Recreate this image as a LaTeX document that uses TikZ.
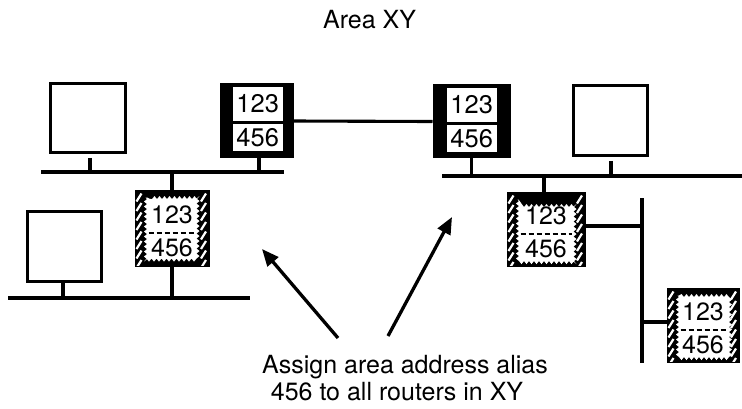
\documentclass[tikz,border=0pt]{standalone}
\usepackage{fontspec}
\setmainfont{TeX Gyre Heros}
\usetikzlibrary{calc,decorations.pathmorphing,arrows.meta}
\begin{document}
\begin{tikzpicture}[x=1pt,y=-1pt,
  lbl/.style={font=\fontsize{25}{30}\selectfont, inner sep=0pt},
  host/.style={draw, line width=2.8pt, fill=white, inner sep=0pt},
  bus/.style={line width=3.3pt},
  wire/.style={line width=3.1pt},
  rblack/.style={fill=black, draw=black, line width=1pt, inner sep=0pt},
  rbox/.style={fill=white, inner sep=0pt, minimum width=50pt, font=\fontsize{25.5}{30}\selectfont},
  rhatch/.style={fill=black, draw=black, line width=1pt, inner sep=0pt},
  hatchline/.style={white, line width=2.2pt},
  wavy/.style={white, decorate, decoration={snake, amplitude=1.5pt, segment length=5pt}},
  dashsep/.style={line width=2.2pt, dash pattern=on 5pt off 3pt},
  arr/.style={line width=3.3pt, -{Triangle[length=17pt,width=14pt]}}
]
\useasboundingbox (0,0) rectangle (742,408);

% title
\node[lbl, anchor=base] (title) at (369.5,28) {Area XY};

% bus coordinates
\coordinate (tlA) at (41,172);   \coordinate (tlB) at (284,172);
\coordinate (trA) at (442,176);  \coordinate (trB) at (742,176);
\coordinate (blA) at (8,298);    \coordinate (blB) at (250,298);
\coordinate (vA) at (642,198);   \coordinate (vB) at (642,363);

\draw[bus] (tlA) -- (tlB);
\draw[bus] (trA) -- (trB);
\draw[bus] (blA) -- (blB);
\draw[bus] (vA) -- (vB);

% hosts
\node[host, minimum width=75pt, minimum height=69pt] (host1) at (88,118) {};
\node[host, minimum width=74pt, minimum height=70pt] (host2) at (610.5,120.5) {};
\node[host, minimum width=74pt, minimum height=70pt] (host3) at (64.5,246.5) {};

\draw[wire] ($(host1.south)+(2,4)$) coordinate (h1s) -- (h1s |- tlA);
\draw[wire] ($(host2.south)+(0.5,4)$) coordinate (h2s) -- (h2s |- trA);
\draw[wire] ($(host3.south)+(-1.5,0)$) coordinate (h3s) -- (h3s |- blA);

% black routers
\node[rblack, minimum width=73pt, minimum height=74pt] (r1) at (256.5,120) {};
\node[rbox, minimum height=34pt, anchor=north west] (r1a) at ($(r1.north west)+(13,4)$) {123};
\node[rbox, minimum height=27pt, anchor=north west] (r1b) at ($(r1.north west)+(13,41)$) {456};

\node[rblack, minimum width=77pt, minimum height=73pt] (r2) at (471.5,120.5) {};
\node[rbox, minimum height=34pt, anchor=north west] (r2a) at ($(r2.north west)+(14,4)$) {123};
\node[rbox, minimum height=27pt, anchor=north west] (r2b) at ($(r2.north west)+(14,41)$) {456};

\draw[wire] ($(r1.east)+(0,1)$) -- ($(r2.west)+(0,1)$);
\draw[wire] ($(r1.south)+(2.5,0)$) coordinate (r1s) -- (r1s |- tlA);
\draw[wire] (r2.south) -- (r2.south |- trA);

% hatched routers
\foreach \n/\cx/\cy/\w/\h in {hr1/172/228/74/76, hr2/546/229/78/74, hr3/703/325/72/74} {
  \node[rhatch, minimum width=\w pt, minimum height=\h pt] (\n) at (\cx,\cy) {};
  \begin{scope}
    \clip ($(\n.north west)+(1,1)$) rectangle ($(\n.south east)+(-1,-1)$);
    \foreach \k in {0,...,7} {
      \draw[hatchline] ($(\n.north west)+(2,12+9.5*\k)$) -- ++(5,-8);
      \draw[hatchline] ($(\n.north east)+(-8.5,12+9.5*\k)$) -- ++(5,-8);
    }
  \end{scope}
  \fill[wavy] ($(\n.north west)+(11,8)$) rectangle ($(\n.south east)+(-11,-7)$);
  \draw[dashsep] ($(\n.west)+(14,5)$) -- ($(\n.east)+(-14,5)$);
  \node[lbl] (\n-t) at ($(\n.center)+(0,-13)$) {123};
  \node[lbl] (\n-b) at ($(\n.center)+(0,20)$) {456};
}

\draw[wire] (hr1.north) -- (hr1.north |- tlA);
\draw[wire] (hr1.south) -- (hr1.south |- blA);
\draw[wire] ($(hr2.north)+(-2,0)$) coordinate (hr2n) -- (hr2n |- trA);
\draw[wire] ($(hr2.east)+(0,-3)$) coordinate (hr2e) -- (hr2e -| vA);
\draw[wire] ($(hr3.west)+(0,-3)$) coordinate (hr3w) -- (hr3w -| vA);

% arrows and label
\coordinate (a1s) at (338,338); \coordinate (a1e) at (262,249);
\coordinate (a2s) at (388,336); \coordinate (a2e) at (452,217);
\draw[arr] (a1s) -- (a1e);
\draw[arr] (a2s) -- (a2e);

\node[lbl, anchor=base] (note1) at (405,373) {Assign area address alias};
\node[lbl, anchor=base] (note2) at (397,400) {456 to all routers in XY};
\end{tikzpicture}
\end{document}
